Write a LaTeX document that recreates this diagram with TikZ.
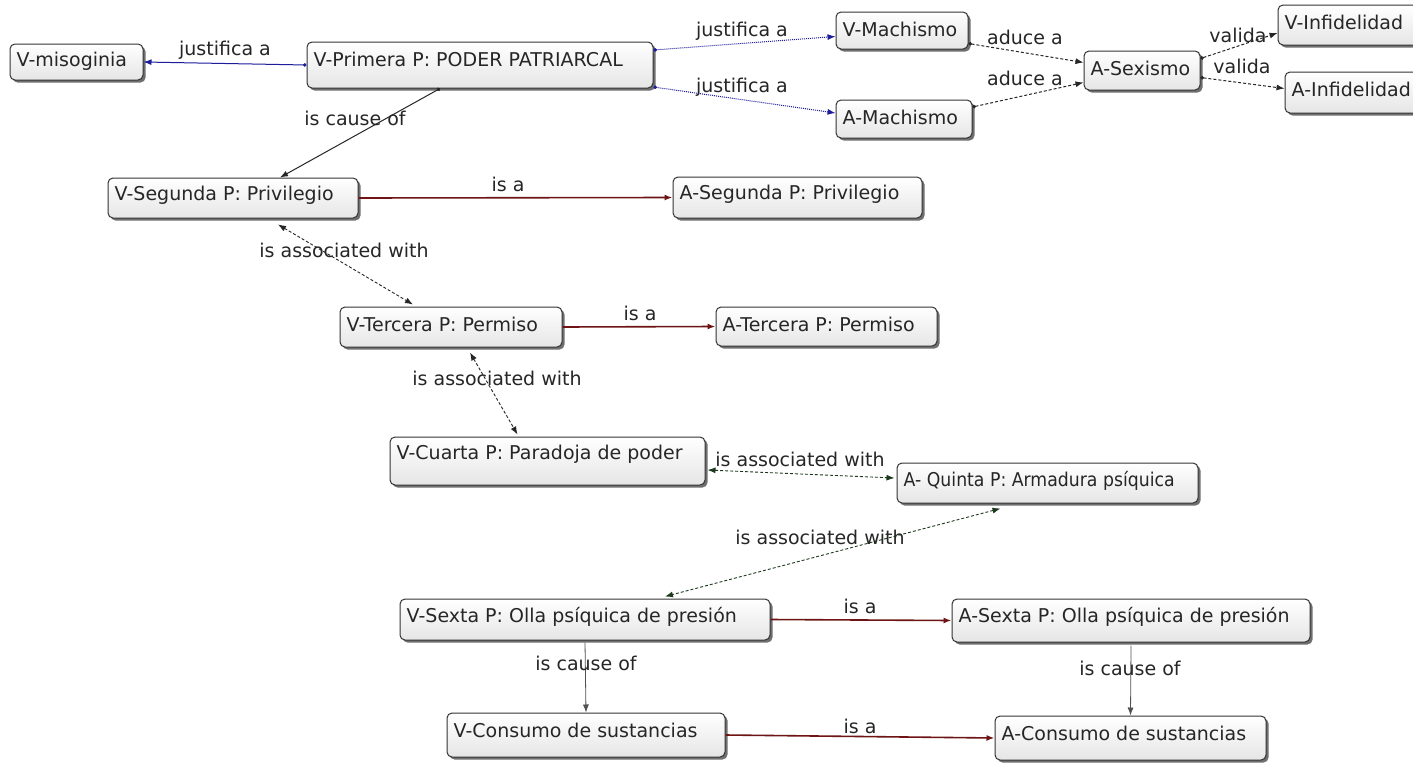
\documentclass[tikz,border=0pt]{standalone}
\usepackage{fontspec}
\setmainfont{DejaVu Sans}
\usetikzlibrary{arrows.meta,shadows,calc}
\definecolor{eblue}{HTML}{1C1C9C}
\definecolor{ered}{HTML}{6E1414}
\definecolor{egreen}{HTML}{1E3A1E}
\definecolor{egray}{HTML}{505050}
\tikzset{
  box/.style={draw=black!80, line width=1pt, rounded corners=5pt, inner sep=0pt,
    top color=white, bottom color=black!10,
    drop shadow={shadow xshift=2.5pt, shadow yshift=-2.5pt, fill=black!70, opacity=0.8}},
  txt/.style={anchor=west, inner sep=0pt, font=\fontsize{19}{22}\selectfont, text=black!85},
  lab/.style={inner sep=1pt, font=\fontsize{19}{22}\selectfont, text=black!85},
  conn/.style={line width=1pt, -{Latex[length=8pt,width=6pt]}},
  dconn/.style={line width=0.9pt, densely dashed, {Latex[length=8pt,width=6pt]}-{Latex[length=8pt,width=6pt]}},
  dot/.style={{Circle[length=3.5pt]}-{Latex[length=8pt,width=6pt]}},
}
\newcommand\cbox[6]{% name, x1, y1, x2, y2, text
  \node[box, minimum width=#4pt-#2pt, minimum height=#5pt-#3pt] (#1) at ({(#2+#4)/2},{(#3+#5)/2}) {};
  \node[txt] (#1t) at ([xshift=7pt,yshift=-18pt]#1.north west) {#6};
}
\begin{document}
\begin{tikzpicture}[x=1pt,y=-1pt]
\useasboundingbox[fill=white] (0,0) rectangle (1413,763);
\cbox{misog}{10}{44}{143}{80}{V-misoginia}
\cbox{prim}{307}{42}{653}{88}{V-Primera P: PODER PATRIARCAL}
\cbox{vmach}{836}{12}{968}{49}{V-Machismo}
\cbox{amach}{836}{100}{972}{138}{A-Machismo}
\cbox{asex}{1084}{51}{1200}{90}{A-Sexismo}
\cbox{vinf}{1278}{5}{1422}{45}{V-Infidelidad}
\cbox{ainf}{1285}{72}{1422}{113}{A-Infidelidad}
\cbox{vseg}{108}{178}{358}{218}{V-Segunda P: Privilegio}
\cbox{aseg}{673}{177}{922}{218}{A-Segunda P: Privilegio}
\cbox{vter}{340}{307}{562}{347}{V-Tercera P: Permiso}
\cbox{ater}{716}{307}{937}{346}{A-Tercera P: Permiso}
\cbox{vcua}{390}{437}{705}{485}{V-Cuarta P: Paradoja de poder}
\cbox{aqui}{897}{463}{1198}{503}{\scalebox{0.91}[1]{A- Quinta P: Armadura psíquica}}
\cbox{vsex}{400}{599}{770}{640}{V-Sexta P: Olla psíquica de presión}
\cbox{asexta}{952}{599}{1310}{642}{A-Sexta P: Olla psíquica de presión}
\cbox{vcon}{447}{713}{725}{757}{V-Consumo de sustancias}
\cbox{acon}{995}{716}{1266}{760}{A-Consumo de sustancias}

% connectors
\draw[conn, dot, eblue] (prim.west) -- (misog.east);
\draw[conn, dot, eblue, densely dotted] ([yshift=15pt]prim.east) -- ([yshift=-6pt]vmach.west);
\draw[conn, dot, eblue, densely dotted] ([yshift=-22pt]prim.east) -- ([yshift=6pt]amach.west);
\draw[conn, dot, black!85, densely dashed] ([yshift=-13pt]vmach.east) -- ([yshift=8pt]asex.west);
\draw[conn, dot, black!85, densely dashed] ([yshift=12pt]amach.east) -- ([yshift=-12pt]asex.west);
\draw[conn, dot, black!85, densely dashed] ([yshift=12pt]asex.east) -- ([yshift=-8pt]vinf.west);
\draw[conn, dot, black!85, densely dashed] ([yshift=-7pt]asex.east) -- ([yshift=4pt]ainf.west);
\draw[conn, dot, black!85] ([xshift=-40pt]prim.south) -- ([xshift=47pt]vseg.north);
\draw[conn, ered, line width=1.6pt] (vseg.east) -- (aseg.west);
\draw[dconn, black!85] ([xshift=45pt,yshift=-6pt]vseg.south) -- ([xshift=-38pt,yshift=2pt]vter.north);
\draw[conn, ered, line width=1.6pt] (vter.east) -- (ater.west);
\draw[dconn, black!85] ([xshift=19pt,yshift=-5pt]vter.south) -- ([xshift=-30pt,yshift=2pt]vcua.north);
\draw[dconn, egreen] ([xshift=2pt,yshift=-9pt]vcua.east) -- ([xshift=-2pt,yshift=5pt]aqui.west);
\draw[dconn, egreen] ([xshift=-47pt,yshift=-5pt]aqui.south) -- ([xshift=80pt,yshift=2pt]vsex.north);
\draw[conn, ered, line width=1.6pt] (vsex.east) -- (asexta.west);
\draw[conn, egray, line width=0.8pt] ([yshift=-2pt]vsex.south) -- (vcon.north);
\draw[conn, egray, line width=0.8pt] ([yshift=-3pt]asexta.south) -- (acon.north);
\draw[conn, ered, line width=1.6pt] (vcon.east) -- (acon.west);

% labels
\node[lab] (l1) at (225,50) {justifica a};
\node[lab] (l2) at (742,31) {justifica a};
\node[lab] (l3) at (742,87) {justifica a};
\node[lab] (l4) at (1025,37) {aduce a};
\node[lab] (l5) at (1025,78) {aduce a};
\node[lab] (l6) at (1238,35) {valida};
\node[lab] (l7) at (1242,66) {valida};
\node[lab] (l8) at (355,118) {is cause of};
\node[lab] (l9) at (508,184) {is a};
\node[lab] (l10) at (344,250) {is associated with};
\node[lab] (l11) at (640,313) {is a};
\node[lab] (l12) at (497,378) {is associated with};
\node[lab] (l13) at (800,459) {is associated with};
\node[lab] (l14) at (820,537) {is associated with};
\node[lab] (l15) at (860,606) {is a};
\node[lab] (l16) at (586,663) {is cause of};
\node[lab] (l17) at (1130,668) {is cause of};
\node[lab] (l18) at (860,726) {is a};
\end{tikzpicture}
\end{document}
